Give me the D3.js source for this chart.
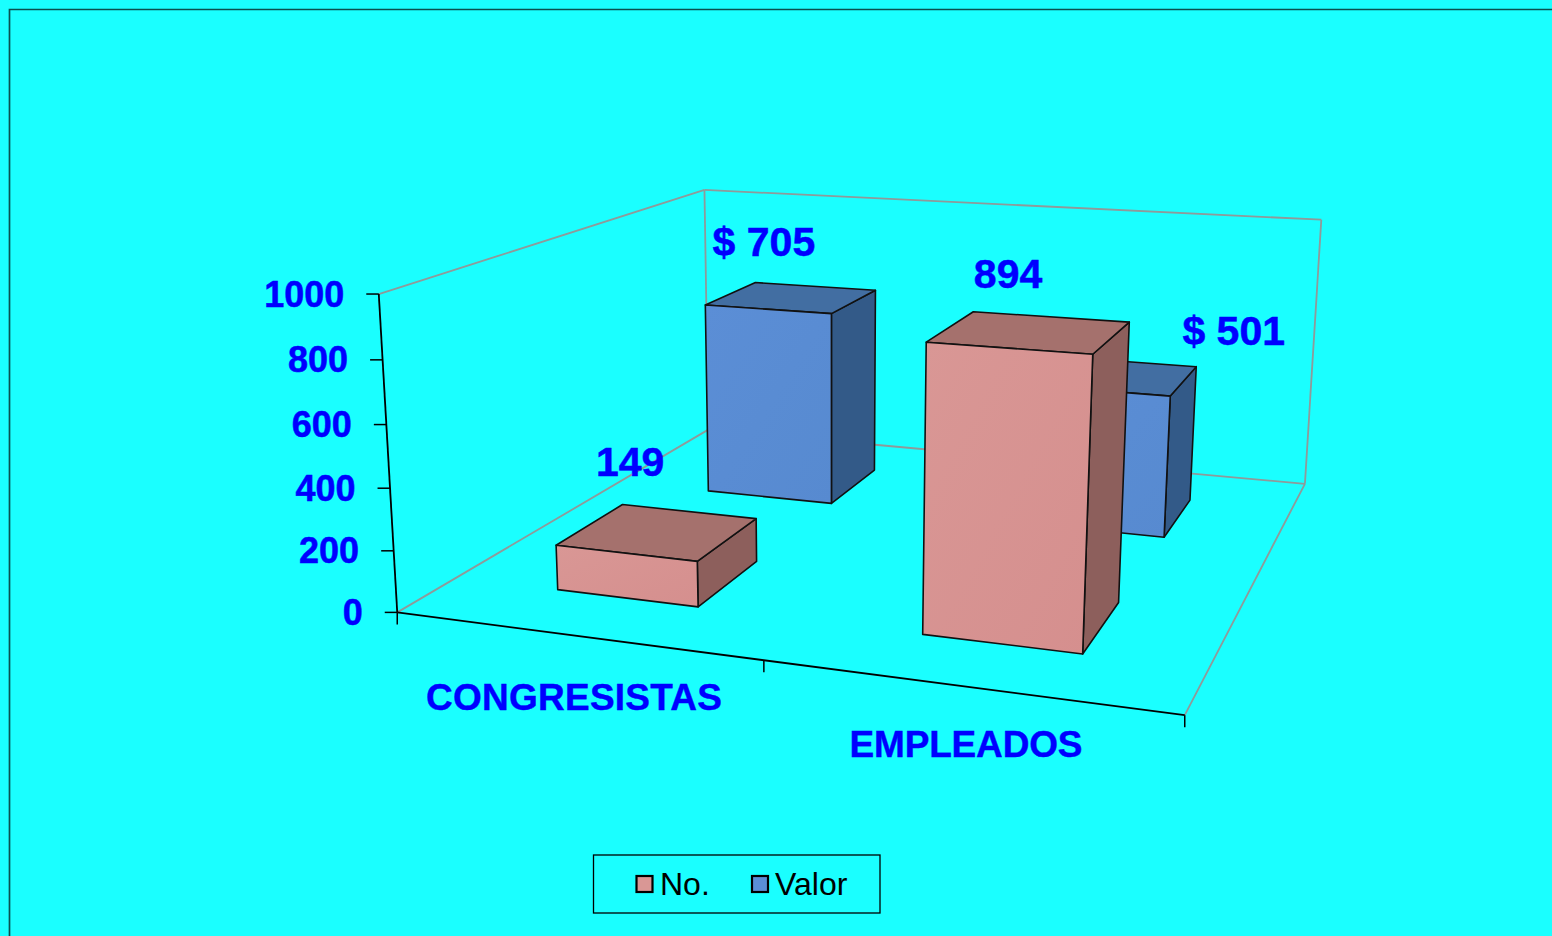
<!DOCTYPE html>
<html><head><meta charset="utf-8">
<script src="https://cdnjs.cloudflare.com/ajax/libs/d3/7.8.5/d3.min.js"></script>
<style>html,body{margin:0;padding:0;background:#1AFFFF;overflow:hidden}svg{display:block}
text{font-family:"Liberation Sans",Arial,sans-serif}</style></head>
<body><svg id="c" width="1552" height="936"></svg>
<script>
// ---- data ----
const categories = ["CONGRESISTAS", "EMPLEADOS"];
const seriesNames = ["No.", "Valor"];
const noValues = [149, 894];
const valorValues = [705, 501];
const yTicks = [0, 200, 400, 600, 800, 1000];

// ---- style and layout ----
const BG = "#1AFFFF", BLUE = "#0000FF", WALL = "#8F9A9A";
const palette = {
  "No.":   {front: ["#D99795", "#D58F8E"], top: "#A5716D", side: "#8D5F5C", key: "No"},
  "Valor": {front: ["#5B8ED6", "#578AD0"], top: "#426EA2", side: "#335A88", key: "Valor"}
};
// frame calibration: [x, y, z] in unit cube -> picture position
const calib = [
  [0,0,0, 397,611],[1,0,0, 1185,716],[1,0,1, 1305,483],[0,0,1, 708,431],
  [0,1,0, 378,295],[0,1,1, 705,189],[1,1,1, 1321,220],
  [0.5,0,0, 764,660],[0,0.6,0, 387,424.5]
];
function solve(A, b) {
  const n = b.length, M = A.map((r, i) => [...r, b[i]]);
  for (let i = 0; i < n; i++) {
    let p = i;
    for (let r = i + 1; r < n; r++) if (Math.abs(M[r][i]) > Math.abs(M[p][i])) p = r;
    [M[i], M[p]] = [M[p], M[i]];
    for (let r = 0; r < n; r++) if (r !== i) {
      const f = M[r][i] / M[i][i];
      for (let c = i; c <= n; c++) M[r][c] -= f * M[i][c];
    }
  }
  return M.map((r, i) => r[n] / r[i]);
}
const rows = [], rhs = [];
calib.forEach(([x, y, z, u, v]) => {
  u /= 1000; v /= 1000;
  rows.push([x,y,z,1,0,0,0,0,-u*x,-u*y,-u*z]); rhs.push(u);
  rows.push([0,0,0,0,x,y,z,1,-v*x,-v*y,-v*z]); rhs.push(v);
});
const ATA = d3.range(11).map(i => d3.range(11).map(j => d3.sum(rows, r => r[i] * r[j])));
const ATb = d3.range(11).map(i => d3.sum(rows, (r, k) => r[i] * rhs[k]));
const P = solve(ATA, ATb);
function project(x, y, z) {
  const w = P[8]*x + P[9]*y + P[10]*z + 1;
  return [1000*(P[0]*x + P[1]*y + P[2]*z + P[3]) / w, 1000*(P[4]*x + P[5]*y + P[6]*z + P[7]) / w];
}

// ---- scales ----
const xScale = d3.scaleBand().domain(categories).range([0, 1]).paddingInner(0.6).paddingOuter(0.3);
const zScale = d3.scaleBand().domain(seriesNames).range([0, 1]).paddingInner(0.6).paddingOuter(0.3);
const yScale = d3.scaleLinear().domain([0, 1000]).range([0, 1]);

const svg = d3.select("#c");
const defs = svg.append("defs");
seriesNames.forEach(s => {
  const g = defs.append("linearGradient").attr("id", "grad" + palette[s].key)
    .attr("x1", 0).attr("y1", 0).attr("x2", 1).attr("y2", 1);
  g.append("stop").attr("offset", 0).attr("stop-color", palette[s].front[0]);
  g.append("stop").attr("offset", 1).attr("stop-color", palette[s].front[1]);
});
svg.append("rect").attr("width", 1552).attr("height", 936).attr("fill", BG);
// chart area border (top and left only are in frame)
svg.append("path").attr("d", "M9.5,936V9.5H1552").attr("fill", "none").attr("stroke", "#0A5050").attr("stroke-width", 1.7);

const line = d3.line();
const poly = pts => line(pts) + "Z";
const frame = svg.append("g");
// gray walls
[[[0,1,0],[0,1,1]], [[0,1,1],[1,1,1]], [[1,1,1],[1,0,1]], [[0,1,1],[0,0,1]],
 [[0,0,0],[0,0,1]], [[0,0,1],[1,0,1]], [[1,0,1],[1,0,0]]].forEach(([a, b]) => {
  frame.append("path").attr("d", line([project(...a), project(...b)]))
    .attr("fill", "none").attr("stroke", WALL).attr("stroke-width", 1.8);
});
// black axes
frame.append("path").attr("d", line([project(0,0,0), project(0,1,0)])).attr("stroke", "#000").attr("stroke-width", 1.8);
frame.append("path").attr("d", line([project(0,0,0), project(1,0,0)])).attr("stroke", "#000").attr("stroke-width", 1.8);
yTicks.forEach(t => {
  const [px, py] = project(0, yScale(t), 0);
  frame.append("path").attr("d", line([[px - 12.5, py], [px, py]])).attr("stroke", "#000").attr("stroke-width", 1.5);
  svg.append("text").attr("x", px - 34.5).attr("y", py).attr("text-anchor", "end").attr("dominant-baseline", "central")
    .attr("font-size", 36).attr("font-weight", "bold").attr("fill", BLUE)
    .attr("stroke", BLUE).attr("stroke-width", 0.5).text(t);
});
[0, 0.5, 1].forEach(u => {
  const [px, py] = project(u, 0, 0);
  frame.append("path").attr("d", line([[px, py], [px, py + 12]])).attr("stroke", "#000").attr("stroke-width", 1.5);
});

// bars: rear series first, left to right
const bars = [];
seriesNames.forEach((s, si) => categories.forEach((c, ci) => {
  bars.push({series: s, category: c, value: (si === 0 ? noValues : valorValues)[ci], si, ci});
}));
bars.sort((a, b) => b.si - a.si || a.ci - b.ci);
const barG = svg.append("g");
bars.forEach(d => {
  const x0 = xScale(d.category), x1 = x0 + xScale.bandwidth();
  const z0 = zScale(d.series), z1 = z0 + zScale.bandwidth();
  const h = yScale(d.value), col = palette[d.series];
  const faces = [
    [col.side, [[x1,0,z0],[x1,0,z1],[x1,h,z1],[x1,h,z0]]],
    [col.top, [[x0,h,z0],[x1,h,z0],[x1,h,z1],[x0,h,z1]]],
    ["url(#grad" + col.key + ")", [[x0,0,z0],[x1,0,z0],[x1,h,z0],[x0,h,z0]]]
  ];
  faces.forEach(([fill, pts]) => {
    barG.append("path").attr("d", poly(pts.map(p => project(...p))))
      .attr("fill", fill).attr("stroke", "#111").attr("stroke-width", 1.6).attr("stroke-linejoin", "round");
  });
});

// data labels: offsets from the top centre of each bar
const labelOffsets = {"No.": [[-28, -70], [-22, -58]], "Valor": [[-28, -55], [119, -45]]};
bars.forEach(d => {
  const x = xScale(d.category) + xScale.bandwidth() / 2, z = zScale(d.series) + zScale.bandwidth() / 2;
  const [px, py] = project(x, yScale(d.value), z);
  const [ox, oy] = labelOffsets[d.series][d.ci];
  svg.append("text").attr("x", px + ox).attr("y", py + oy).attr("text-anchor", "middle").attr("dominant-baseline", "central")
    .attr("font-size", 41).attr("font-weight", "bold").attr("fill", BLUE)
    .attr("stroke", BLUE).attr("stroke-width", 0.5)
    .text(d.series === "Valor" ? "$ " + d.value : d.value);
});

// category labels
const catPos = [[574, 697, 296], [966, 744, 233]];
categories.forEach((c, i) => {
  svg.append("text").attr("x", catPos[i][0]).attr("y", catPos[i][1]).attr("text-anchor", "middle").attr("dominant-baseline", "central")
    .attr("font-size", 37).attr("font-weight", "bold").attr("fill", BLUE)
    .attr("stroke", BLUE).attr("stroke-width", 0.4)
    .attr("textLength", catPos[i][2]).attr("lengthAdjust", "spacing").text(c);
});

// legend
const legend = svg.append("g");
legend.append("rect").attr("x", 593.5).attr("y", 855).attr("width", 286.5).attr("height", 58)
  .attr("fill", BG).attr("stroke", "#000").attr("stroke-width", 1.3);
const legendX = [636.5, 752];
const legendTextX = [660, 775];
seriesNames.forEach((s, i) => {
  legend.append("rect").attr("x", legendX[i]).attr("y", 876).attr("width", 16).attr("height", 16)
    .attr("fill", palette[s].front[0]).attr("stroke", "#000").attr("stroke-width", 2.2);
  legend.append("text").attr("x", legendTextX[i]).attr("y", 884).attr("dominant-baseline", "central")
    .attr("font-size", 32).attr("fill", "#000").text(s);
});
</script></body></html>
